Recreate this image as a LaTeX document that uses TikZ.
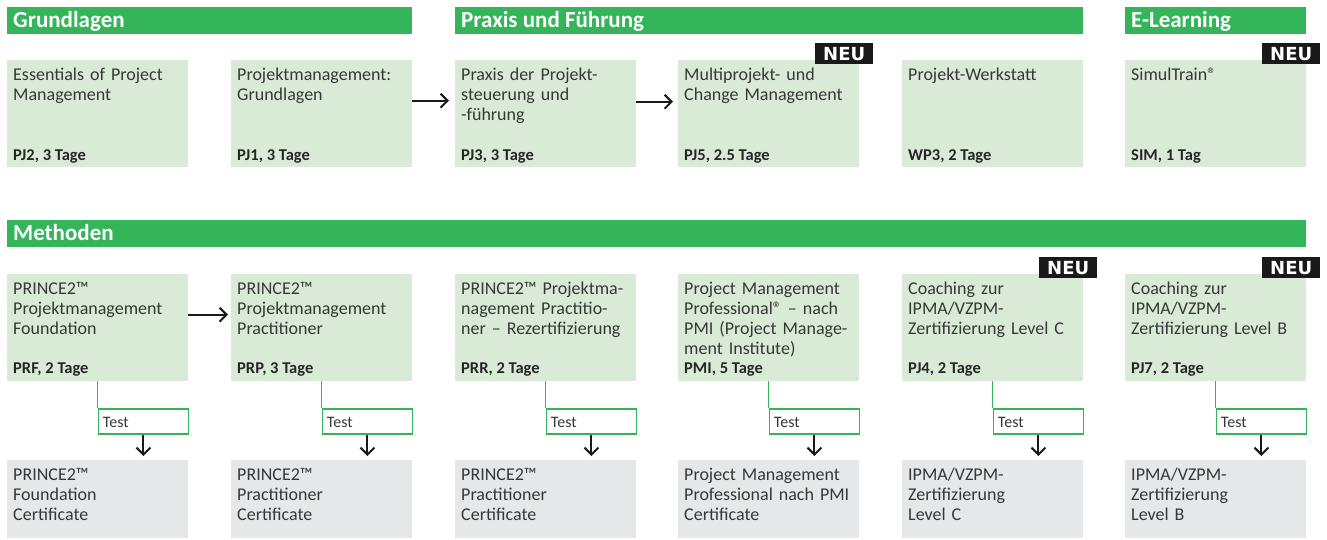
\documentclass[tikz,border=0pt]{standalone}
\usepackage{fontspec}
\setmainfont{Carlito}
\newfontfamily\neufont{DejaVu Sans}
\usetikzlibrary{arrows.meta,positioning}
\definecolor{kgreen}{RGB}{52,181,89}
\definecolor{kbox}{RGB}{217,235,215}
\definecolor{kgray}{RGB}{230,231,232}
\definecolor{ktext}{RGB}{55,55,55}
\tikzset{
  bar/.style={fill=kgreen, inner sep=0, anchor=north west, minimum height=27pt},
  bartext/.style={anchor=base west, inner sep=0, text=white, font=\fontsize{23}{23}\selectfont\bfseries},
  kurs/.style={fill=kbox, inner sep=0, anchor=north west, minimum width=181pt, minimum height=107pt},
  zert/.style={fill=kgray, inner sep=0, anchor=north west, minimum width=181pt, minimum height=78pt},
  titel/.style={anchor=base west, inner sep=0, text width=200pt, align=left, text=ktext, font=\fontsize{18}{20}\selectfont},
  code/.style={anchor=base west, inner sep=0, text=black!85, font=\fontsize{16.5}{16}\selectfont\bfseries},
  testbox/.style={draw=kgreen, line width=1.5pt, fill=white, anchor=north west, minimum width=90pt, minimum height=25pt, inner sep=0},
  testtext/.style={anchor=base west, inner sep=0, text=ktext, font=\fontsize{16}{16}\selectfont},
  neu/.style={fill=black!90, text=white, inner sep=0, anchor=north east, minimum width=58pt, minimum height=21pt, font=\neufont\bfseries\fontsize{18}{18}\selectfont},
  pfeil/.style={-{Straight Barb[length=7pt,width=14pt]}, line width=2pt, black!90},
}
\begin{document}
\begin{tikzpicture}[x=1pt, y=-1pt]
\useasboundingbox (0,0) rectangle (1327,539);
% Kopfzeilen
\node[bar, minimum width=405pt] (H_0) at (7,7) {};
\node[bartext] at ([xshift=6pt,yshift=-20pt]H_0.north west) {Grundlagen};
\node[bar, minimum width=628pt] (H_1) at (455,7) {};
\node[bartext] at ([xshift=6pt,yshift=-20pt]H_1.north west) {Praxis und Führung};
\node[bar, minimum width=181pt] (H_2) at (1125,7) {};
\node[bartext] at ([xshift=6pt,yshift=-20pt]H_2.north west) {E-Learning};
\node[bar, minimum width=1299pt] (H_3) at (7,220) {};
\node[bartext] at ([xshift=6pt,yshift=-20pt]H_3.north west) {Methoden};
% obere Reihe
\node[kurs] (K_0_0) at (7,60) {};
\node[titel] at ([xshift=6pt,yshift=-20pt]K_0_0.north west) {Essentials of Project\\Management};
\node[code] at ([xshift=6pt,yshift=7pt]K_0_0.south west) {PJ2, 3 Tage};
\node[kurs] (K_0_1) at (231,60) {};
\node[titel] at ([xshift=6pt,yshift=-20pt]K_0_1.north west) {Projektmanagement:\\Grundlagen};
\node[code] at ([xshift=6pt,yshift=7pt]K_0_1.south west) {PJ1, 3 Tage};
\node[kurs] (K_0_2) at (455,60) {};
\node[titel] at ([xshift=6pt,yshift=-20pt]K_0_2.north west) {Praxis der Projekt-\\steuerung und\\-führung};
\node[code] at ([xshift=6pt,yshift=7pt]K_0_2.south west) {PJ3, 3 Tage};
\node[kurs] (K_0_3) at (678,60) {};
\node[titel] at ([xshift=6pt,yshift=-20pt]K_0_3.north west) {Multiprojekt- und\\Change Management};
\node[code] at ([xshift=6pt,yshift=7pt]K_0_3.south west) {PJ5, 2.5 Tage};
\node[neu] at ([xshift=14pt,yshift=17pt]K_0_3.north east) {NEU};
\node[kurs] (K_0_4) at (902,60) {};
\node[titel] at ([xshift=6pt,yshift=-20pt]K_0_4.north west) {Projekt-Werkstatt};
\node[code] at ([xshift=6pt,yshift=7pt]K_0_4.south west) {WP3, 2 Tage};
\node[kurs] (K_0_5) at (1125,60) {};
\node[titel] at ([xshift=6pt,yshift=-20pt]K_0_5.north west) {SimulTrain®};
\node[code] at ([xshift=6pt,yshift=7pt]K_0_5.south west) {SIM, 1 Tag};
\node[neu] at ([xshift=14pt,yshift=17pt]K_0_5.north east) {NEU};
\draw[pfeil, shorten >=6pt] ([yshift=13pt]K_0_1.east) -- ([yshift=13pt]K_0_2.west);
\draw[pfeil, shorten >=5pt] ([yshift=12pt]K_0_2.east) -- ([yshift=12pt]K_0_3.west);
% untere Reihe
\node[kurs] (K_1_0) at (7,274) {};
\node[titel] at ([xshift=6pt,yshift=-20pt]K_1_0.north west) {PRINCE2™\\Projektmanagement\\Foundation};
\node[code] at ([xshift=6pt,yshift=8pt]K_1_0.south west) {PRF, 2 Tage};
\node[kurs] (K_1_1) at (231,274) {};
\node[titel] at ([xshift=6pt,yshift=-20pt]K_1_1.north west) {PRINCE2™\\Projektmanagement\\Practitioner};
\node[code] at ([xshift=6pt,yshift=8pt]K_1_1.south west) {PRP, 3 Tage};
\node[kurs] (K_1_2) at (455,274) {};
\node[titel] at ([xshift=6pt,yshift=-20pt]K_1_2.north west) {PRINCE2™ Projektma-\\nagement Practitio-\\ner – Rezertifizierung};
\node[code] at ([xshift=6pt,yshift=8pt]K_1_2.south west) {PRR, 2 Tage};
\node[kurs] (K_1_3) at (678,274) {};
\node[titel] at ([xshift=6pt,yshift=-20pt]K_1_3.north west) {Project Management\\Professional® – nach\\PMI (Project Manage-\\ment Institute)};
\node[code] at ([xshift=6pt,yshift=8pt]K_1_3.south west) {PMI, 5 Tage};
\node[kurs] (K_1_4) at (902,274) {};
\node[titel] at ([xshift=6pt,yshift=-20pt]K_1_4.north west) {Coaching zur\\IPMA/VZPM-\\Zertifizierung Level C};
\node[code] at ([xshift=6pt,yshift=8pt]K_1_4.south west) {PJ4, 2 Tage};
\node[neu] at ([xshift=14pt,yshift=17pt]K_1_4.north east) {NEU};
\node[kurs] (K_1_5) at (1125,274) {};
\node[titel] at ([xshift=6pt,yshift=-20pt]K_1_5.north west) {Coaching zur\\IPMA/VZPM-\\Zertifizierung Level B};
\node[code] at ([xshift=6pt,yshift=8pt]K_1_5.south west) {PJ7, 2 Tage};
\node[neu] at ([xshift=14pt,yshift=17pt]K_1_5.north east) {NEU};
\draw[pfeil, shorten >=3pt] ([yshift=13pt]K_1_0.east) -- ([yshift=13pt]K_1_1.west);
% Tests und Zertifikate
\node[zert] (Z_0) at (7,460) {};
\node[titel] at ([xshift=6pt,yshift=-20pt]Z_0.north west) {PRINCE2™\\Foundation\\Certificate};
\node[zert] (Z_1) at (231,460) {};
\node[titel] at ([xshift=6pt,yshift=-20pt]Z_1.north west) {PRINCE2™\\Practitioner\\Certificate};
\node[zert] (Z_2) at (455,460) {};
\node[titel] at ([xshift=6pt,yshift=-20pt]Z_2.north west) {PRINCE2™\\Practitioner\\Certificate};
\node[zert] (Z_3) at (678,460) {};
\node[titel] at ([xshift=6pt,yshift=-20pt]Z_3.north west) {Project Management\\Professional nach PMI\\Certificate};
\node[zert] (Z_4) at (902,460) {};
\node[titel] at ([xshift=6pt,yshift=-20pt]Z_4.north west) {IPMA/VZPM-\\Zertifizierung\\Level C};
\node[zert] (Z_5) at (1125,460) {};
\node[titel] at ([xshift=6pt,yshift=-20pt]Z_5.north west) {IPMA/VZPM-\\Zertifizierung\\Level B};
\node[testbox] (T_0) at ([yshift=-27pt]K_1_0.south) {};
\draw[kgreen, line width=1.5pt] (K_1_0.south) -- (T_0.north west);
\node[testtext] at ([xshift=5pt,yshift=-19pt]T_0.north west) {Test};
\draw[pfeil, shorten >=4pt] (T_0.south) -- (T_0.south |- Z_0.north);
\node[testbox] (T_1) at ([yshift=-27pt]K_1_1.south) {};
\draw[kgreen, line width=1.5pt] (K_1_1.south) -- (T_1.north west);
\node[testtext] at ([xshift=5pt,yshift=-19pt]T_1.north west) {Test};
\draw[pfeil, shorten >=4pt] (T_1.south) -- (T_1.south |- Z_1.north);
\node[testbox] (T_2) at ([yshift=-27pt]K_1_2.south) {};
\draw[kgreen, line width=1.5pt] (K_1_2.south) -- (T_2.north west);
\node[testtext] at ([xshift=5pt,yshift=-19pt]T_2.north west) {Test};
\draw[pfeil, shorten >=4pt] (T_2.south) -- (T_2.south |- Z_2.north);
\node[testbox] (T_3) at ([yshift=-27pt]K_1_3.south) {};
\draw[kgreen, line width=1.5pt] (K_1_3.south) -- (T_3.north west);
\node[testtext] at ([xshift=5pt,yshift=-19pt]T_3.north west) {Test};
\draw[pfeil, shorten >=4pt] (T_3.south) -- (T_3.south |- Z_3.north);
\node[testbox] (T_4) at ([yshift=-27pt]K_1_4.south) {};
\draw[kgreen, line width=1.5pt] (K_1_4.south) -- (T_4.north west);
\node[testtext] at ([xshift=5pt,yshift=-19pt]T_4.north west) {Test};
\draw[pfeil, shorten >=4pt] (T_4.south) -- (T_4.south |- Z_4.north);
\node[testbox] (T_5) at ([yshift=-27pt]K_1_5.south) {};
\draw[kgreen, line width=1.5pt] (K_1_5.south) -- (T_5.north west);
\node[testtext] at ([xshift=5pt,yshift=-19pt]T_5.north west) {Test};
\draw[pfeil, shorten >=4pt] (T_5.south) -- (T_5.south |- Z_5.north);
\end{tikzpicture}
\end{document}
